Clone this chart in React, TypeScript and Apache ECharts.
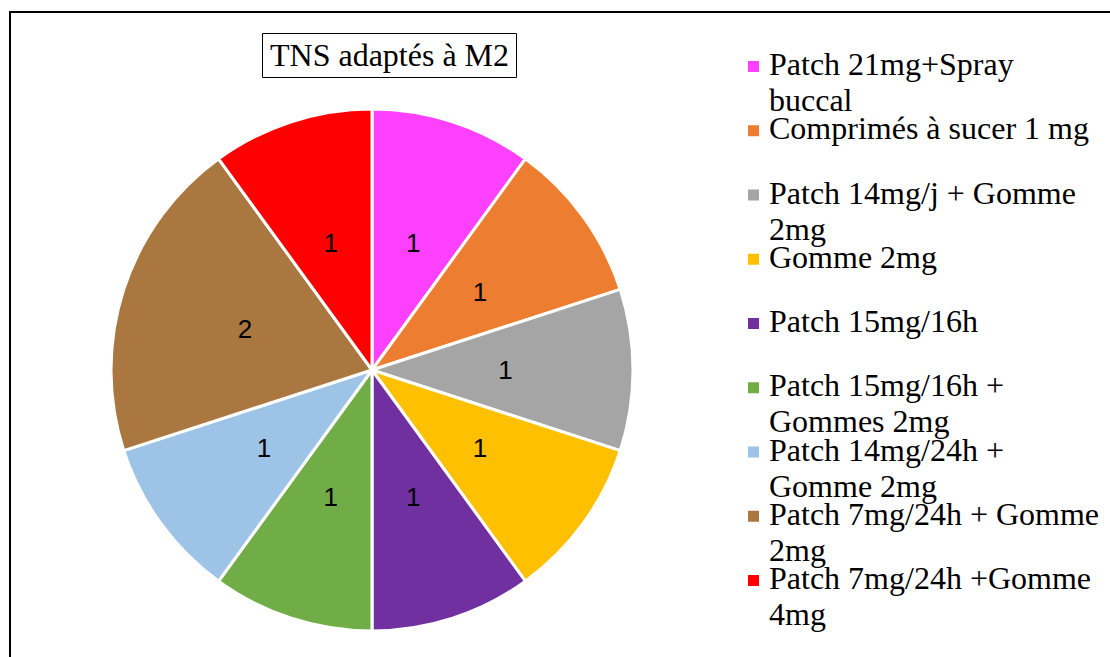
import React, { useEffect, useRef } from "react";
import * as echarts from "echarts";

const titleText = "TNS adaptés à M2";
const categories = [
  "Patch 21mg+Spray\nbuccal",
  "Comprimés à sucer 1 mg",
  "Patch 14mg/j + Gomme\n2mg",
  "Gomme 2mg",
  "Patch 15mg/16h",
  "Patch 15mg/16h +\nGommes 2mg",
  "Patch 14mg/24h +\nGomme 2mg",
  "Patch 7mg/24h + Gomme\n2mg",
  "Patch 7mg/24h +Gomme\n4mg",
];
const values = [1, 1, 1, 1, 1, 1, 1, 2, 1];
const colors = [
  "#FF40FF",
  "#ED7D31",
  "#A5A5A5",
  "#FFC000",
  "#7030A0",
  "#70AD47",
  "#9DC3E6",
  "#A9773F",
  "#FF0000",
];

export default function App() {
  const ref = useRef<HTMLDivElement>(null);
  useEffect(() => {
    document.body.style.margin = "0";
    const chart = echarts.init(ref.current!, null, { renderer: "svg" });
    const serif = "'Liberation Serif', 'Times New Roman', serif";
    const legendEls: any[] = [];
    categories.forEach((name, i) => {
      const top = 64 + 64.25 * i;
      legendEls.push({
        type: "rect",
        shape: { x: 748, y: top - 3, width: 11, height: 11 },
        style: { fill: colors[i] },
        silent: true,
      });
      name.split("\n").forEach((line, j) => {
        legendEls.push({
          type: "text",
          x: 769,
          y: top + 36 * j,
          style: {
            text: line,
            font: `32px ${serif}`,
            fill: "#000",
            verticalAlign: "middle",
            align: "left",
          },
          silent: true,
        });
      });
    });
    chart.setOption({
      animation: false,
      backgroundColor: "#fff",
      title: {
        text: titleText,
        left: 262,
        top: 33,
        padding: [6, 8, 7, 8],
        borderColor: "#000",
        borderWidth: 1,
        textStyle: {
          fontFamily: serif,
          fontSize: 32,
          fontWeight: "normal",
          color: "#000",
          lineHeight: 32,
        },
      },
      graphic: [
        {
          type: "rect",
          shape: { x: 10, y: 12, width: 1300, height: 900 },
          style: { fill: "none", stroke: "#000", lineWidth: 2 },
          silent: true,
          z: -1,
        },
        ...legendEls,
      ],
      series: [
        {
          type: "pie",
          center: [372, 370],
          radius: 261,
          startAngle: 90,
          clockwise: true,
          avoidLabelOverlap: false,
          silent: true,
          itemStyle: { borderColor: "#fff", borderWidth: 3 },
          label: {
            show: true,
            position: "inside",
            formatter: "{c}",
            fontFamily: "'Liberation Sans', Arial, sans-serif",
            fontSize: 26,
            color: "#000",
          },
          labelLine: { show: false },
          data: categories.map((c, i) => ({
            name: c.replace("\n", " "),
            value: values[i],
            itemStyle: { color: colors[i] },
          })),
        },
      ],
    });
    return () => chart.dispose();
  }, []);
  return <div ref={ref} style={{ width: 1110, height: 657 }} />;
}
